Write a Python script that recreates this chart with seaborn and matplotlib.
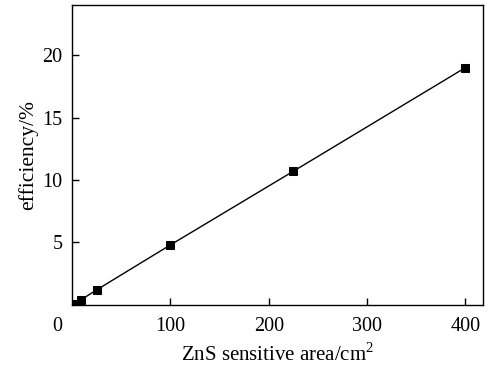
import matplotlib
matplotlib.use("Agg")
import matplotlib.pyplot as plt
import seaborn as sns
import pandas as pd

area = [1, 9, 25, 100, 225, 400]
efficiency = [0.05, 0.4, 1.2, 4.8, 10.7, 19.0]
xticks = [100, 200, 300, 400]
yticks = [5, 10, 15, 20]

sns.set_theme(style="ticks")
plt.rcParams['font.family'] = ['Liberation Serif', 'DejaVu Serif']
plt.rcParams['mathtext.fontset'] = 'custom'
plt.rcParams['mathtext.rm'] = 'Liberation Serif'
plt.rcParams['text.color'] = 'black'
plt.rcParams['axes.labelcolor'] = 'black'

df = pd.DataFrame({"area": area, "eff": efficiency})
fig = plt.figure(figsize=(4.9, 3.7), dpi=100)
ax = fig.add_axes([0.147, 0.176, 0.839, 0.81])
sns.lineplot(data=df, x="area", y="eff", ax=ax, color="black", linewidth=1,
             marker="s", markersize=6, markeredgecolor="black", markerfacecolor="black")
ax.set_xlim(0, 418)
ax.set_ylim(0, 24)
ax.set_xticks(xticks)
ax.set_yticks(yticks)
ax.tick_params(direction="in", length=5, width=1, labelsize=14.5, colors="black")
ax.tick_params(axis="x", pad=9)
ax.tick_params(axis="y", pad=7)
for s in ax.spines.values():
    s.set_linewidth(1)
    s.set_color("black")
ax.set_xlabel("ZnS sensitive area/cm$^\\mathrm{2}$", fontsize=15, labelpad=5, color="black")
ax.set_ylabel("efficiency/%", fontsize=15.5, labelpad=3, color="black")
ax.annotate("0", xy=(0, 0), xycoords="axes fraction", xytext=(-7, -9),
            textcoords="offset points", ha="right", va="top", fontsize=14.5,
            color="black")
fig.savefig("out.png", dpi=100)
